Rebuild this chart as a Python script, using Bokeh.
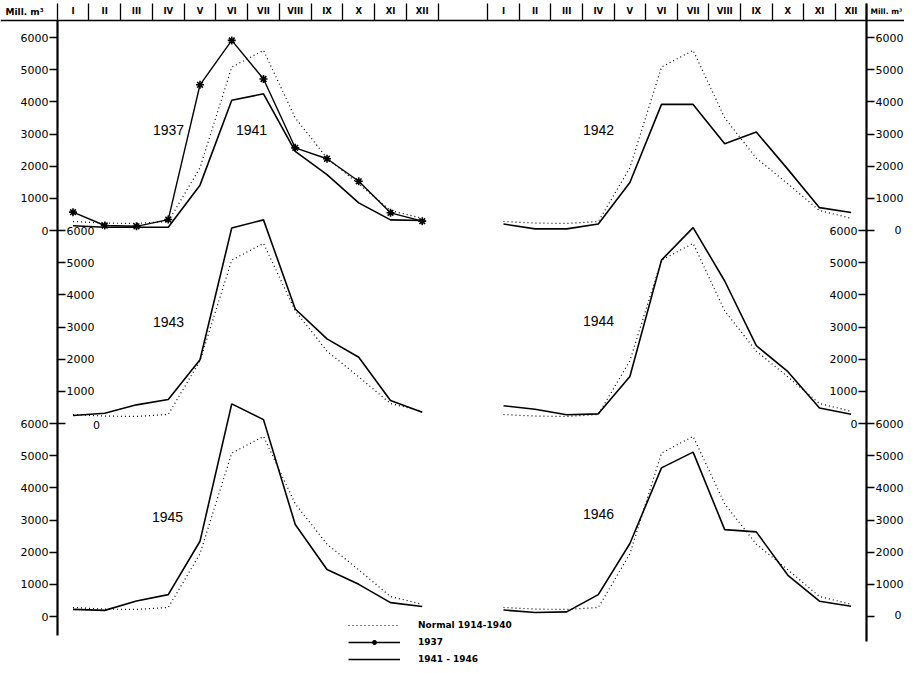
from bokeh.plotting import figure
from bokeh.models import Range1d, LinearAxis, FixedTicker, Label, Legend, LegendItem
from bokeh.embed import file_html
from bokeh.resources import INLINE

# ---------------- data (Mill. m3 per month) ----------------
MONTHS = ["I", "II", "III", "IV", "V", "VI", "VII", "VIII", "IX", "X", "XI", "XII"]
MONTH_NO = list(range(1, 13))
NORMAL = [280, 230, 220, 280, 1950, 5080, 5600, 3500, 2250, 1450, 620, 380]
Y1937 = [570, 155, 130, 340, 4530, 5910, 4710, 2570, 2230, 1530, 550, 290]
Y1941 = [150, 100, 100, 100, 1410, 4050, 4250, 2460, 1740, 860, 330, 310]
Y1942 = [200, 50, 50, 200, 1490, 3920, 3920, 2700, 3060, 1900, 710, 560]
Y1943 = [250, 320, 580, 745, 1980, 6080, 6330, 3560, 2630, 2060, 715, 350]
Y1944 = [550, 445, 270, 300, 1460, 5080, 6090, 4430, 2420, 1610, 480, 290]
Y1945 = [220, 190, 480, 680, 2340, 6610, 6120, 2860, 1460, 1000, 430, 310]
Y1946 = [200, 125, 145, 680, 2270, 4620, 5110, 2700, 2630, 1280, 475, 320]
TICKS = [0, 1000, 2000, 3000, 4000, 5000, 6000]
YEAR_TEXT = ["1941", "1942", "1943", "1944", "1945", "1946"]
LEGEND_TEXT = ["Normal 1914-1940", "1937", "1941 - 1946"]
UNIT_TEXT = "Mill. m³"

# ---------------- layout (canvas pixels) ----------------
W, H = 904, 665
K = 193.0 / 6000.0                 # px per Mill. m3
ZERO_Y = [230, 423, 616]           # canvas y of the 0 line of each row
COL_M1 = {"L": 72.5, "R": 503.0}   # canvas x of month I
COL_STEP = {"L": 31.75, "R": 31.6}
AX_X = {"L": 57, "R": 866}
HEAD_Y = 20
INK = "black"

p = figure(width=W, height=H, x_range=Range1d(0, W), y_range=Range1d(H, 0),
           title=None, x_axis_location=None, y_axis_location=None,
           toolbar_location=None, output_backend="svg", min_border=0,
           outline_line_color=None, background_fill_color="white")
p.grid.visible = False

xr = {}
for c in ("L", "R"):
    s = 1 - COL_M1[c] / COL_STEP[c]
    xr[c] = Range1d(s, s + W / COL_STEP[c])
yr = {}
for i, z in enumerate(ZERO_Y):
    yr[f"p{i}"] = Range1d(-(H - z) / K, z / K)
p.extra_x_ranges = xr
p.extra_y_ranges = yr


def draw(vals, col, row, dash="solid", width=1.6):
    return p.line(MONTH_NO, vals, x_range_name=col, y_range_name=f"p{row}",
                  line_color=INK, line_width=width, line_dash=dash)


panels = [("L", 0, Y1941), ("R", 0, Y1942), ("L", 1, Y1943),
          ("R", 1, Y1944), ("L", 2, Y1945), ("R", 2, Y1946)]
solid = []
norm = []
for col, row, vals in panels:
    norm.append(draw(NORMAL, col, row, dash="1 3", width=1.2))
    solid.append(draw(vals, col, row))
r37 = draw(Y1937, "L", 0, width=1.4)
r37s = p.scatter(MONTH_NO, Y1937, x_range_name="L", y_range_name="p0",
                 marker="asterisk", size=8, line_color=INK, line_width=1.6)

# ---------------- vertical axes ----------------
FONT = "DejaVu Sans"


def vaxis(col, row, side, ticks, overrides=None, bounds=None):
    ax = LinearAxis(y_range_name=f"p{row}", fixed_location=AX_X[col],
                    ticker=FixedTicker(ticks=ticks),
                    major_tick_in=0, major_tick_out=8, minor_tick_in=0, minor_tick_out=0,
                    major_tick_line_width=1.4, major_tick_line_color=INK,
                    major_label_standoff=1,
                    major_label_text_font=FONT, major_label_text_font_size="11px",
                    major_label_text_color=INK)
    if overrides:
        ax.major_label_overrides = overrides
    if bounds is None:
        ax.axis_line_color = None
    else:
        ax.bounds = bounds
        ax.axis_line_width = 2.2
        ax.axis_line_color = INK
    p.add_layout(ax, side)
    return ax


vaxis("L", 0, "left", TICKS, bounds=(-(635 - ZERO_Y[0]) / K, (ZERO_Y[0] - HEAD_Y) / K))
vaxis("L", 1, "right", TICKS, overrides={0: ""})
vaxis("L", 2, "left", TICKS)
vaxis("R", 0, "right", TICKS, overrides={0: ""},
      bounds=(-(641 - ZERO_Y[0]) / K, (ZERO_Y[0] - 3) / K))
vaxis("R", 1, "left", TICKS)
vaxis("R", 2, "right", TICKS, overrides={0: ""})

# stray "0" labels placed as in the original
for x, y, al in [(96, 424, "center"), (W - 3, 229, "right"), (W - 3, 614, "right")]:
    p.add_layout(Label(x=x, y=y, text="0", text_align=al, text_baseline="middle",
                       text_font=FONT, text_font_size="11px", text_color=INK))

# ---------------- month header ----------------
for c in ("L", "R"):
    # month names sitting on the header rule
    hx = LinearAxis(x_range_name=c, fixed_location=HEAD_Y,
                    ticker=FixedTicker(ticks=MONTH_NO),
                    major_label_overrides=dict(zip(MONTH_NO, MONTHS)),
                    major_tick_out=0, major_tick_in=0, minor_tick_out=0, minor_tick_in=0,
                    major_label_standoff=5, major_label_text_font=FONT,
                    major_label_text_font_size="8.5px", major_label_text_font_style="bold",
                    major_label_text_color=INK, axis_line_width=1.6, axis_line_color=INK)
    if c == "R":
        hx.axis_line_color = None
    p.add_layout(hx, "above")
    # cell separators hanging down to the rule
    sx = LinearAxis(x_range_name=c, fixed_location=3,
                    ticker=FixedTicker(ticks=[], minor_ticks=[m - 0.5 for m in MONTH_NO] + [12.5]),
                    major_tick_out=0, major_tick_in=0, minor_tick_out=0,
                    minor_tick_in=HEAD_Y - 3, minor_tick_line_width=1.3,
                    minor_tick_line_color=INK,
                    major_label_text_alpha=0, axis_line_color=None)
    p.add_layout(sx, "above")

p.add_layout(Label(x=5, y=11, text=UNIT_TEXT, text_align="left", text_baseline="middle",
                   text_font=FONT, text_font_size="9px", text_font_style="bold",
                   text_color=INK))
p.add_layout(Label(x=870, y=11, text=UNIT_TEXT, text_align="left", text_baseline="middle",
                   text_font=FONT, text_font_size="7.5px", text_font_style="bold",
                   text_color=INK))

# ---------------- year labels ----------------
YEAR_POS = [(251, 129), (598, 129), (168, 321), (598, 320), (167, 516), (598, 513)]
for t, (x, y) in zip(YEAR_TEXT, YEAR_POS):
    p.add_layout(Label(x=x, y=y, text=t, text_align="center", text_baseline="middle",
                       text_font="Liberation Sans", text_font_size="14px", text_color=INK))
p.add_layout(Label(x=168, y=129, text="1937", text_align="center", text_baseline="middle",
                   text_font="Liberation Sans", text_font_size="14px", text_color=INK))

# ---------------- legend ----------------
legend = Legend(items=[LegendItem(label=LEGEND_TEXT[0], renderers=[norm[0]]),
                       LegendItem(label=LEGEND_TEXT[1], renderers=[r37, r37s]),
                       LegendItem(label=LEGEND_TEXT[2], renderers=[solid[0]])],
                location=(348, 0), glyph_width=52, glyph_height=12, label_height=12,
                label_standoff=18, spacing=5, padding=0, margin=0,
                border_line_color=None, background_fill_alpha=0,
                label_text_font=FONT, label_text_font_size="9px",
                label_text_font_style="bold", label_text_color=INK)
p.add_layout(legend)

open("out.html", "w").write(file_html(p, INLINE))
